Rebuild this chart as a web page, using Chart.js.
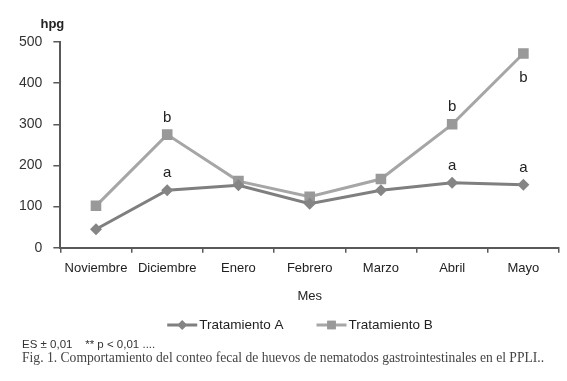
<!DOCTYPE html>
<html>
<head>
<meta charset="utf-8">
<script src="https://cdn.jsdelivr.net/npm/chart.js@4/dist/chart.umd.min.js"></script>
<style>
  html, body { margin: 0; padding: 0; background: #fff; }
  #wrap { position: relative; width: 567px; height: 381px; overflow: hidden; }
  #chart { position: absolute; left: 0; top: 0; }
  .nota { position: absolute; left: 22px; white-space: nowrap; color: #333; }
  #es { top: 338px; font: 11.5px "Liberation Sans", Arial, sans-serif; }
  #fig { top: 350px; font: 13.6px "Liberation Serif", "Times New Roman", serif; color: #444; }
</style>
</head>
<body>
<div id="wrap">
  <canvas id="chart" width="567" height="381"></canvas>
  <div class="nota" id="es">ES ± 0,01 &nbsp;&nbsp; ** p &lt; 0,01 ....</div>
  <div class="nota" id="fig">Fig. 1. Comportamiento del conteo fecal de huevos de nematodos gastrointestinales en el PPLI..</div>
</div>
<script>
/* ---------- datos ---------- */
const meses  = ['Noviembre','Diciembre','Enero','Febrero','Marzo','Abril','Mayo'];
const tratA  = [45, 140, 152, 107, 140, 158, 153];
const tratB  = [102, 275, 162, 124, 167, 300, 472];
const letrasA = ['', 'a', '', '', '', 'a', 'a'];
const letrasB = ['', 'b', '', '', '', 'b', 'b'];
const yTicks = [0, 100, 200, 300, 400, 500];

const colA = '#7f7f7f', colB = '#a6a6a6';
const ejes = '#595959';

/* letras de significancia sobre los puntos */
const letrasPlugin = {
  id: 'letras',
  afterDatasetsDraw(chart, args, opts) {
    const ctx = chart.ctx;
    ctx.save();
    ctx.font = '15px "Liberation Sans", Arial, sans-serif';
    ctx.fillStyle = '#222';
    ctx.textAlign = 'center';
    ctx.textBaseline = 'middle';
    chart.data.datasets.forEach((ds, i) => {
      const meta = chart.getDatasetMeta(i);
      (ds.letras || []).forEach((t, j) => {
        if (!t) return;
        const p = meta.data[j];
        const abajo = (opts.abajo[i] || []).includes(j);
        ctx.fillText(t, p.x, abajo ? p.y + 24 : p.y - 17);
      });
    });
    // unidad del eje y
    ctx.font = 'bold 13px "Liberation Sans", Arial, sans-serif';
    ctx.fillStyle = '#222';
    ctx.fillText('hpg', chart.scales.y.right - 8, chart.chartArea.top - 18);
    ctx.restore();
  }
};

/* leyenda: línea con marcador y texto */
const leyendaPlugin = {
  id: 'leyenda',
  afterDraw(chart, args, opts) {
    const ctx = chart.ctx;
    ctx.save();
    ctx.font = '13.5px "Liberation Sans", Arial, sans-serif';
    ctx.textBaseline = 'middle';
    ctx.textAlign = 'left';
    const items = chart.data.datasets.map(ds => ({ds, w: 32 + ctx.measureText(ds.label).width}));
    const gap = 33;
    const total = items.reduce((s, it) => s + it.w, 0) + gap * (items.length - 1);
    let x = opts.cx - total / 2;
    const y = opts.y;
    items.forEach(({ds, w}) => {
      ctx.strokeStyle = ds.borderColor;
      ctx.lineWidth = 3;
      ctx.beginPath(); ctx.moveTo(x, y); ctx.lineTo(x + 30, y); ctx.stroke();
      ctx.fillStyle = ds.pointBackgroundColor;
      ctx.beginPath();
      Chart.helpers.drawPoint(ctx, {pointStyle: ds.pointStyle, radius: ds.pointRadius * 0.8, borderWidth: 0}, x + 15, y);
      ctx.fill();
      ctx.fillStyle = '#222';
      ctx.fillText(ds.label, x + 32, y);
      x += w + gap;
    });
    ctx.restore();
  }
};

new Chart(document.getElementById('chart'), {
  type: 'line',
  data: {
    labels: meses,
    datasets: [
      {
        label: 'Tratamiento A', data: tratA, letras: letrasA,
        borderColor: colA, backgroundColor: colA,
        pointBackgroundColor: '#858585', pointBorderWidth: 0,
        pointStyle: 'rectRot', pointRadius: 6,
        borderWidth: 3, tension: 0
      },
      {
        label: 'Tratamiento B', data: tratB, letras: letrasB,
        borderColor: colB, backgroundColor: colB,
        pointBackgroundColor: '#999999', pointBorderWidth: 0,
        pointStyle: 'rect', pointRadius: 7.5,
        borderWidth: 3, tension: 0
      }
    ]
  },
  options: {
    responsive: false,
    animation: false,
    devicePixelRatio: 1,
    layout: { padding: { top: 42, left: 8, right: 8, bottom: 75 } },
    plugins: {
      legend: { display: false },
      tooltip: { enabled: false },
      letras: { abajo: [[], [6]] },
      leyenda: { cx: 300, y: 325 }
    },
    scales: {
      x: {
        offset: true,
        grid: { offset: true, drawOnChartArea: false, drawTicks: true, tickLength: 5, color: ejes, lineWidth: 1.5 },
        border: { color: ejes, width: 2 },
        ticks: { color: '#222', padding: 7.5, maxRotation: 0, autoSkip: false,
                 font: { family: '"Liberation Sans", Arial, sans-serif', size: 13 } },
        title: { display: true, text: 'Mes', color: '#222', padding: { top: 5, bottom: 2 },
                 font: { family: '"Liberation Sans", Arial, sans-serif', size: 13 } }
      },
      y: {
        min: 0, max: 500,
        afterBuildTicks: (s) => { s.ticks = yTicks.map(v => ({value: v})); },
        grid: { drawOnChartArea: false, drawTicks: true, tickLength: 7, color: ejes, lineWidth: 1.5 },
        border: { color: ejes, width: 2 },
        ticks: { color: '#333', padding: 11,
                 font: { family: '"Liberation Sans", Arial, sans-serif', size: 14 } }
      }
    }
  },
  plugins: [letrasPlugin, leyendaPlugin]
});
</script>
</body>
</html>
